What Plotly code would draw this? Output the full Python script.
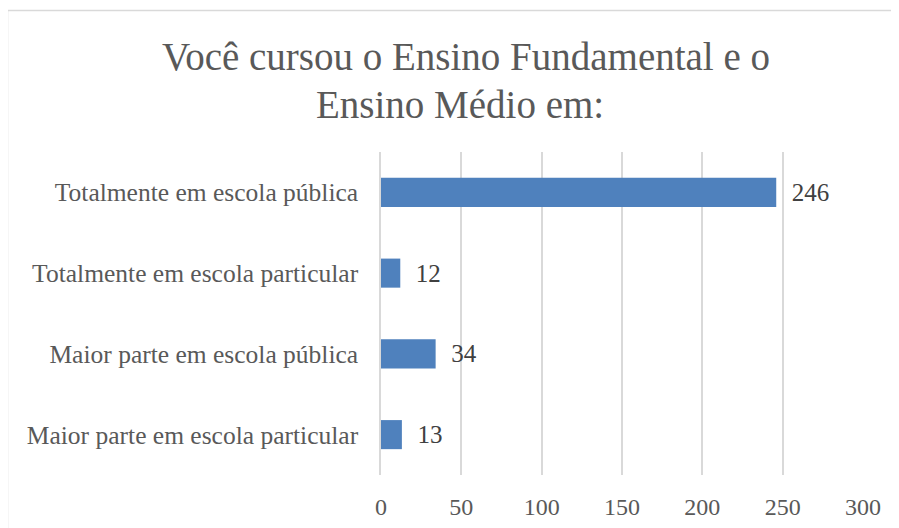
import plotly.graph_objects as go

categories = [
    "Totalmente em escola pública",
    "Totalmente em escola particular",
    "Maior parte em escola pública",
    "Maior parte em escola particular",
]
values = [246, 12, 34, 13]
x_ticks = [0, 50, 100, 150, 200, 250, 300]
title_lines = ["Você cursou o Ensino Fundamental e o", "Ensino Médio em:"]

# the page body adds an 8px offset, so the figure is drawn 8px smaller
OFF = 8
W, H = 899 - OFF, 528 - OFF
L, R, T, B = 381 - OFF, 36, 152 - OFF, 53

FONT = "Liberation Serif"

fig = go.Figure(
    go.Bar(
        x=values,
        y=categories,
        orientation="h",
        marker=dict(color="#4F81BD", line=dict(width=0)),
        text=values,
        texttemplate="  %{x}",
        textposition="outside",
        cliponaxis=False,
        textfont=dict(family=FONT, size=25, color="#404040"),
        width=0.36,
    )
)

pw = W - L - R
ph = H - T - B
# chart border in paper coords
x0 = (7.5 - OFF - L) / pw
y1 = 1 + (T - (10.5 - OFF)) / ph
x1 = (W + 20 - L) / pw
y0 = -(B + 20) / ph
fig.add_shape(type="rect", xref="paper", yref="paper", x0=x0, x1=x1, y0=y0, y1=y1,
              line=dict(color="#D9D9D9", width=1.5), fillcolor="rgba(0,0,0,0)", layer="below")

title_centers_y = [57 - OFF, 104 - OFF]
title_centers_x = [466 - OFF, 460 - OFF]
for txt, cx, cy in zip(title_lines, title_centers_x, title_centers_y):
    fig.add_annotation(
        text=txt,
        xref="paper", yref="paper",
        x=(cx - L) / pw,
        y=1 + (T - cy) / ph,
        xanchor="center", yanchor="middle",
        showarrow=False,
        font=dict(family=FONT, size=39, color="#595959"),
    )

fig.update_layout(
    width=W,
    height=H,
    margin=dict(l=L, r=R, t=T, b=B, autoexpand=False),
    paper_bgcolor="white",
    plot_bgcolor="white",
    showlegend=False,
    xaxis=dict(
        range=[0, 300],
        tickvals=x_ticks,
        showgrid=True,
        gridcolor="#D9D9D9",
        gridwidth=1.5,
        zeroline=False,
        showline=False,
        ticks="",
        ticklabelstandoff=15,
        tickfont=dict(family=FONT, size=24, color="#595959"),
        fixedrange=True,
    ),
    yaxis=dict(
        categoryorder="array",
        categoryarray=categories[::-1],
        autorange=False,
        range=[-0.5, 3.5],
        showgrid=False,
        zeroline=False,
        showline=True,
        linecolor="#D9D9D9",
        linewidth=1.5,
        ticks="",
        ticklabelstandoff=16,
        tickfont=dict(family=FONT, size=25.5, color="#595959"),
    ),
)

fig.write_html("out.html")
